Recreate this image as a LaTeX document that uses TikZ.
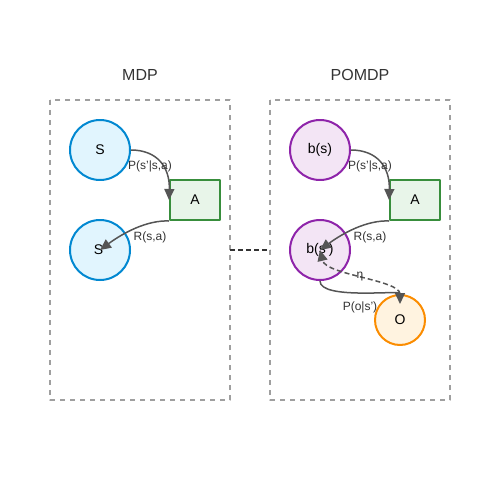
\documentclass[tikz,border=0pt]{standalone}
\usepackage{fontspec}
\setmainfont{Liberation Sans}
\usepackage{xcolor}
\usetikzlibrary{arrows.meta}

\definecolor{stateline}{HTML}{0288D1}
\definecolor{statefill}{HTML}{E1F5FE}
\definecolor{beliefline}{HTML}{8E24AA}
\definecolor{belieffill}{HTML}{F3E5F5}
\definecolor{actline}{HTML}{388E3C}
\definecolor{actfill}{HTML}{E8F5E9}
\definecolor{obsline}{HTML}{FB8C00}
\definecolor{obsfill}{HTML}{FFF3E0}
\definecolor{edgegray}{HTML}{555555}

\tikzset{
  statenode/.style={circle, draw=stateline, fill=statefill, line width=2pt, minimum size=60pt, inner sep=0pt, font=\fontsize{14}{16}\selectfont},
  beliefnode/.style={circle, draw=beliefline, fill=belieffill, line width=2pt, minimum size=60pt, inner sep=0pt, font=\fontsize{14}{16}\selectfont},
  actnode/.style={rectangle, draw=actline, fill=actfill, line width=2pt, minimum width=50pt, minimum height=40pt, inner sep=0pt, font=\fontsize{14}{16}\selectfont},
  obsnode/.style={circle, draw=obsline, fill=obsfill, line width=2pt, minimum size=50pt, inner sep=0pt, font=\fontsize{14}{16}\selectfont},
  panel/.style={draw=gray!75, line width=1.5pt, dash pattern=on 5pt off 5pt},
  flow/.style={draw=edgegray, line width=1.5pt, -{Triangle[length=11pt,width=10pt]}},
  edgelabel/.style={font=\fontsize{12}{14}\selectfont, text=black!80, inner sep=1pt}
}

\begin{document}
\begin{tikzpicture}[x=1pt, y=-1pt, line join=round]

  \useasboundingbox (0,0) rectangle (500,500);

  % panels
  \draw[panel] (50,100) rectangle (230,400);
  \draw[panel] (270,100) rectangle (450,400);
  \coordinate (mdpR) at (230,250);
  \coordinate (pomdpL) at (270,250);
  \draw[draw=black!80, line width=1.5pt, dash pattern=on 5pt off 3pt] (mdpR) -- (pomdpL);

  \node[font=\fontsize{16}{18}\selectfont, text=black!80] (mdptitle) at (140,75) {MDP};
  \node[font=\fontsize{16}{18}\selectfont, text=black!80] (pomdptitle) at (360,75) {POMDP};

  % MDP
  \node[statenode] (s) at (100,150) {S};
  \node[statenode] (sp) at (100,250) {S'};
  \node[actnode] (a) at (195,200) {A};

  \draw[flow] (s.east) .. controls (157,150) and (170,167) .. (a.west);
  \draw[flow] (a.south west) .. controls (147,220) and (123,233) .. (sp.center);
  \node[edgelabel] (pl) at (150,166) {P(s'|s,a)};
  \node[edgelabel] (rl) at (150,237) {R(s,a)};

  % POMDP
  \node[beliefnode] (b) at (320,150) {b(s)};
  \node[beliefnode] (bp) at (320,250) {b(s')};
  \node[actnode] (a2) at (415,200) {A};
  \node[obsnode] (o) at (400,320) {O};

  \draw[flow, shorten >=-10pt] (bp.south) .. controls (320,300) and (400,290) .. (o.north);
  \draw[flow, dash pattern=on 5pt off 3pt] (o.north) .. controls (400,280) and (326,275) .. (bp.center);
  \draw[flow] (b.east) .. controls (377,150) and (390,167) .. (a2.west);
  \draw[flow] (a2.south west) .. controls (367,220) and (343,233) .. (bp.center);
  \node[edgelabel] (pr) at (370,166) {P(s'|s,a)};
  \node[edgelabel] (rr) at (370,237) {R(s,a)};
  \node[edgelabel] (ol) at (360,307) {P(o|s')};
  \node[edgelabel] (eta) at (360,277) {η};

\end{tikzpicture}
\end{document}
